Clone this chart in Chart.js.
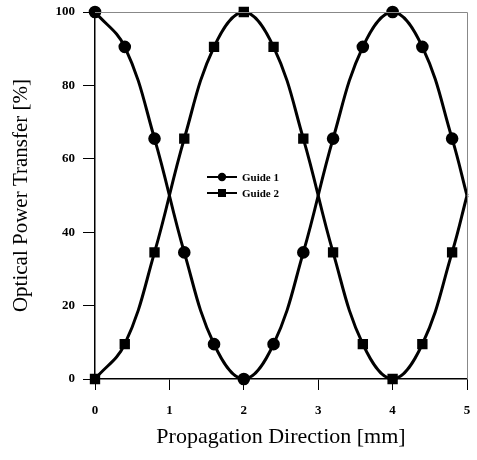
<!DOCTYPE html>
<html>
<head>
<meta charset="utf-8">
<script src="https://cdn.jsdelivr.net/npm/chart.js@4.4.0/dist/chart.umd.min.js"></script>
<style>
  html, body { margin: 0; padding: 0; background: #fff; }
  #wrap { width: 477px; height: 460px; }
</style>
</head>
<body>
<div id="wrap"><canvas id="chart" width="477" height="460"></canvas></div>
<script>
// Propagation distance [mm] of each sample
const positions = [0, 0.4, 0.8, 1.2, 1.6, 2.0, 2.4, 2.8, 3.2, 3.6, 4.0, 4.4, 4.8, 5.0];
// Optical power in each guide [%]
const guide1 = [100, 90.5, 65.5, 34.5, 9.5, 0, 9.5, 34.5, 65.5, 90.5, 100, 90.5, 65.5, 50];
const guide2 = [0, 9.5, 34.5, 65.5, 90.5, 100, 90.5, 65.5, 34.5, 9.5, 0, 9.5, 34.5, 50];
// last sample at 5 mm has no marker
const markerShown = [1, 1, 1, 1, 1, 1, 1, 1, 1, 1, 1, 1, 1, 0];

const seriesNames = ['Guide 1', 'Guide 2'];
const xTicks = [0, 1, 2, 3, 4, 5];
const yTicks = [0, 20, 40, 60, 80, 100];

const serif = "'Liberation Serif', 'DejaVu Serif', serif";

function toPoints(values) {
    return positions.map((x, i) => ({ x: x, y: values[i] }));
}

// Top/right frame lines and the legend inside the plot
const framePlugin = {
    id: 'frame',
    afterDraw(chart) {
        const ctx = chart.ctx;
        const a = chart.chartArea;
        ctx.save();
        ctx.strokeStyle = '#888';
        ctx.lineWidth = 1;
        ctx.beginPath();
        ctx.moveTo(a.left, a.top + 0.5);
        ctx.lineTo(a.right + 0.5, a.top + 0.5);
        ctx.lineTo(a.right + 0.5, a.bottom);
        ctx.stroke();

        // legend
        const lx = 207, ly = 177, gap = 16;
        chart.data.datasets.forEach((ds, i) => {
            const y = ly + i * gap;
            ctx.strokeStyle = '#000';
            ctx.lineWidth = 2;
            ctx.beginPath();
            ctx.moveTo(lx, y);
            ctx.lineTo(lx + 30, y);
            ctx.stroke();
            ctx.fillStyle = '#000';
            if (ds.pointStyle === 'rect') {
                ctx.fillRect(lx + 11, y - 4, 8, 8);
            } else {
                ctx.beginPath();
                ctx.arc(lx + 15, y, 4.2, 0, Math.PI * 2);
                ctx.fill();
            }
            ctx.font = 'bold 11px ' + serif;
            ctx.textBaseline = 'middle';
            ctx.textAlign = 'left';
            ctx.fillText(ds.label, lx + 35, y + 1);
        });
        ctx.restore();
    }
};

new Chart(document.getElementById('chart').getContext('2d'), {
    type: 'line',
    data: {
        datasets: [
            {
                label: seriesNames[0],
                data: toPoints(guide1),
                borderColor: '#000',
                backgroundColor: '#000',
                borderWidth: 3,
                tension: 0.4,
                clip: false,
                pointStyle: 'circle',
                pointRadius: markerShown.map(m => m * 4.8),
                pointHoverRadius: 0
            },
            {
                label: seriesNames[1],
                data: toPoints(guide2),
                borderColor: '#000',
                backgroundColor: '#000',
                borderWidth: 3,
                tension: 0.4,
                clip: false,
                pointStyle: 'rect',
                pointRadius: markerShown.map(m => m * 5.2),
                pointHoverRadius: 0
            }
        ]
    },
    options: {
        responsive: false,
        animation: false,
        layout: { padding: { left: 0, top: 12, right: 10, bottom: 0 } },
        plugins: {
            legend: { display: false },
            tooltip: { enabled: false }
        },
        scales: {
            x: {
                type: 'linear',
                min: 0,
                max: 5,
                afterFit(scale) {
                    scale.height = 81;
                    scale.paddingLeft = 0;
                    scale.paddingRight = 0;
                },
                afterBuildTicks(scale) { scale.ticks = xTicks.map(v => ({ value: v })); },
                grid: { drawOnChartArea: false, drawTicks: true, tickLength: 11, color: '#000', lineWidth: 1 },
                border: { display: true, color: '#000', width: 1.5 },
                ticks: { color: '#000', padding: 13, font: { family: serif, size: 13, weight: 'bold' } },
                title: {
                    display: true,
                    text: 'Propagation Direction [mm]',
                    color: '#000',
                    padding: { top: 0, bottom: 10 },
                    font: { family: serif, size: 22 }
                }
            },
            y: {
                min: 0,
                max: 100,
                afterFit(scale) {
                    scale.width = 95;
                    scale.paddingTop = 0;
                    scale.paddingBottom = 0;
                },
                afterBuildTicks(scale) { scale.ticks = yTicks.map(v => ({ value: v })); },
                grid: { drawOnChartArea: false, drawTicks: true, tickLength: 12, color: '#000', lineWidth: 1 },
                border: { display: true, color: '#000', width: 1.5 },
                ticks: { color: '#000', padding: 8, font: { family: serif, size: 13, weight: 'bold' } },
                title: {
                    display: true,
                    text: 'Optical Power Transfer [%]',
                    color: '#000',
                    padding: { top: 9, bottom: 0 },
                    font: { family: serif, size: 21 }
                }
            }
        }
    },
    plugins: [framePlugin]
});
</script>
</body>
</html>
